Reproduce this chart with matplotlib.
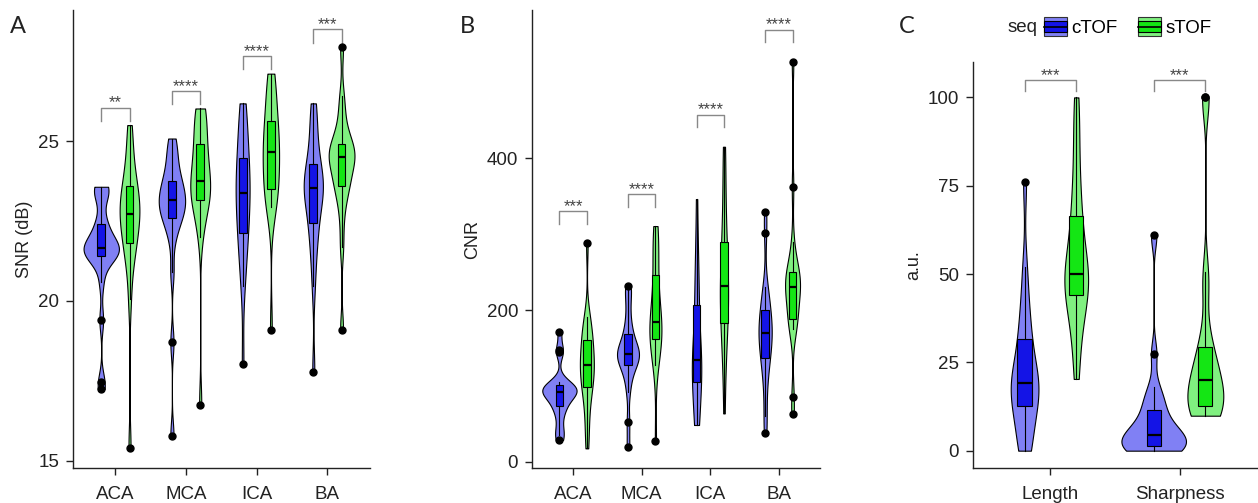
import numpy as np
import matplotlib.pyplot as plt
from matplotlib.patches import Rectangle
from matplotlib.lines import Line2D
from matplotlib.legend_handler import HandlerBase

plt.rcParams["font.family"] = ["Liberation Sans", "DejaVu Sans"]

vessels = ["ACA", "MCA", "ICA", "BA"]
metrics = ["Length", "Sharpness"]
seqs = ["cTOF", "sTOF"]

# SNR (dB), one list per vessel
snr_ctof = [
    [17.24, 17.45, 19.4, 20.6, 21.3, 21.4, 21.45, 21.5, 21.55, 21.6, 21.65, 21.7, 21.8, 21.9, 22.1, 22.4, 22.5, 23.3, 23.45, 23.5, 23.57],
    [15.78, 18.7, 20.9, 21.9, 22.3, 22.58, 22.6, 22.8, 22.9, 23.0, 23.16, 23.2, 23.3, 23.5, 23.6, 23.76, 23.9, 24.2, 24.5, 24.8, 25.08],
    [18.02, 20.45, 21.0, 21.5, 21.9, 22.11, 22.4, 22.7, 23.0, 23.2, 23.36, 23.6, 23.8, 24.0, 24.3, 24.48, 24.8, 25.2, 25.6, 25.9, 26.18],
    [17.77, 20.45, 21.3, 21.8, 22.2, 22.45, 22.8, 23.1, 23.3, 23.45, 23.54, 23.6, 23.7, 23.8, 24.0, 24.27, 24.5, 24.9, 25.4, 25.8, 26.18],
]
snr_stof = [
    [15.4, 20.05, 21.0, 21.5, 21.7, 21.8, 22.1, 22.4, 22.6, 22.7, 22.72, 22.8, 23.0, 23.2, 23.4, 23.6, 23.7, 24.0, 24.5, 25.0, 25.5],
    [16.75, 22.0, 22.5, 22.9, 23.1, 23.16, 23.3, 23.5, 23.6, 23.7, 23.75, 24.0, 24.3, 24.5, 24.7, 24.9, 25.2, 25.5, 25.8, 26.0, 26.02],
    [19.1, 22.95, 23.0, 23.2, 23.4, 23.5, 23.8, 24.1, 24.3, 24.5, 24.65, 24.8, 25.0, 25.2, 25.4, 25.63, 25.9, 26.3, 26.6, 26.9, 27.11],
    [19.1, 21.7, 22.6, 23.2, 23.5, 23.6, 23.8, 24.0, 24.2, 24.4, 24.49, 24.55, 24.6, 24.7, 24.8, 24.9, 25.1, 25.4, 25.9, 26.4, 27.95],
]
snr_sig = ["**", "****", "****", "***"]

# CNR
cnr_ctof = [
    [28.6, 35, 45, 60, 70, 73.4, 80, 85, 88, 90, 92.3, 93, 95, 96, 98, 101, 103, 105, 145, 147, 171.4],
    [18.9, 51.9, 92, 110, 120, 127.5, 132, 136, 139, 141, 142, 145, 148, 152, 158, 168, 175, 190, 210, 228, 232],
    [48.4, 50, 55, 75, 95, 105.5, 112, 118, 124, 129, 134, 140, 150, 165, 185, 206.6, 220, 240, 265, 290, 346.4],
    [37.4, 60, 90, 116, 125, 136.3, 145, 152, 158, 164, 170, 175, 180, 186, 193, 200, 210, 222, 230, 301, 329.7],
]
cnr_stof = [
    [17.6, 40, 60, 80, 92, 98, 105, 112, 118, 123, 127.5, 132, 138, 145, 152, 160.4, 168, 175, 182, 191, 288],
    [27.7, 127.5, 140, 150, 158, 161.3, 168, 172, 176, 180, 184.6, 190, 200, 212, 228, 246, 262, 278, 290, 305, 310.8],
    [63.7, 110, 140, 160, 175, 183.3, 195, 205, 215, 225, 231.6, 240, 250, 260, 275, 290, 310, 330, 360, 395, 415.4],
    [62.9, 85.7, 175, 180, 185, 187.7, 200, 210, 220, 226, 229.9, 233, 236, 240, 245, 250.5, 255, 262, 290, 361.8, 527.5],
]
cnr_sig = ["***", "****", "****", "****"]

# image quality scores (a.u.)
quality_ctof = [
    [0, 0, 3, 7, 10, 12.6, 14, 15.5, 17, 18, 19.2, 20.5, 22, 24, 27, 31.5, 34, 38, 44, 52, 76.1],
    [0, 0, 0, 0.2, 0.5, 1.3, 2, 2.5, 3, 4, 4.4, 5, 6, 7, 9, 11.5, 13, 15, 18, 27.4, 61],
]
quality_stof = [
    [20.3, 28, 34, 38, 42, 44.0, 46, 47, 48, 49, 50, 52, 55, 58, 62, 66.5, 70, 76, 84, 92, 100],
    [9.9, 10, 10, 11, 12, 12.7, 14, 15, 17, 18.5, 20, 21, 22, 24, 27, 29.4, 33, 45, 50.7, 100, 100],
]
quality_sig = ["***", "***"]

light_cols = ["#8080f4", "#80f080"]
dark_cols = ["#1414e6", "#14e614"]


def nrd0(x):
    sd = np.std(x, ddof=1)
    q75, q25 = np.percentile(x, [75, 25])
    lo = min(sd, (q75 - q25) / 1.34)
    if lo <= 0:
        lo = sd
    return 0.9 * lo * len(x) ** -0.2


def kde(x):
    x = np.asarray(x, dtype=float)
    bw = nrd0(x)
    grid = np.linspace(x.min(), x.max(), 512)
    z = (grid[:, None] - x[None, :]) / bw
    dens = np.exp(-0.5 * z**2).sum(axis=1) / (len(x) * bw * np.sqrt(2 * np.pi))
    return grid, dens


def violin_panel(ax, groups, series, sig, ylim, yticks, ylabel, pad, tick):
    n = len(groups)
    kdes = [[kde(s[i]) for i in range(n)] for s in series]
    dmax = max(d.max() for row in kdes for _, d in row)
    scale = 0.25 / dmax

    for k, s in enumerate(series):
        pos = [i + 1 + (k - 0.5) * 0.4 for i in range(n)]
        for i in range(n):
            grid, dens = kdes[k][i]
            w = dens * scale
            ax.fill_betweenx(grid, pos[i] - w, pos[i] + w, facecolor=light_cols[k],
                             edgecolor="black", lw=0.8, zorder=2)
        ax.boxplot(s, positions=pos, widths=0.11, patch_artist=True, showcaps=False,
                   manage_ticks=False, whis=1.5,
                   boxprops=dict(facecolor=dark_cols[k], edgecolor="black", lw=0.8),
                   whiskerprops=dict(color="black", lw=0.8),
                   medianprops=dict(color="black", lw=1.6),
                   flierprops=dict(marker="o", markerfacecolor="black", markeredgecolor="black",
                                   markersize=5),
                   zorder=3)

    for i in range(n):
        top = max(max(series[0][i]), max(series[1][i])) + pad
        x1, x2 = i + 1 - 0.2, i + 1 + 0.2
        ax.plot([x1, x1, x2, x2], [top - tick, top, top, top - tick], color="#888888", lw=1)
        ax.annotate(sig[i], ((x1 + x2) / 2, top), xytext=(0, 0), textcoords="offset points",
                    ha="center", va="baseline", fontsize=12, color="#444444")

    ax.set_xlim(0.4, n + 0.6)
    ax.set_ylim(*ylim)
    ax.set_xticks(range(1, n + 1))
    ax.set_xticklabels(groups)
    ax.set_yticks(yticks)
    ax.set_ylabel(ylabel, fontsize=13, color="#222222")
    ax.spines["top"].set_visible(False)
    ax.spines["right"].set_visible(False)
    for sp in ("left", "bottom"):
        ax.spines[sp].set_linewidth(1.0)
        ax.spines[sp].set_color("#222222")
    ax.tick_params(labelsize=13.5, length=5, width=1, colors="#222222")
    ax.tick_params(axis="x", pad=8)
    ax.tick_params(axis="y", pad=5)


fig = plt.figure(figsize=(12.58, 5.03), dpi=100)
ax_a = fig.add_axes([0.058, 0.0696, 0.236, 0.9104])
ax_b = fig.add_axes([0.4229, 0.0696, 0.2289, 0.9104])
ax_c = fig.add_axes([0.7734, 0.0696, 0.2258, 0.8077])

violin_panel(ax_a, vessels, [snr_ctof, snr_stof], snr_sig, (14.77, 29.1), [15, 20, 25],
             "SNR (dB)", 0.55, 0.42)
violin_panel(ax_b, vessels, [cnr_ctof, cnr_stof], cnr_sig, (-8.3, 595.7), [0, 200, 400],
             "CNR", 42.5, 17)
violin_panel(ax_c, metrics, [quality_ctof, quality_stof], quality_sig, (-4.9, 110.1),
             [0, 25, 50, 75, 100], "a.u.", 4.9, 3.0)

for label, x in [("A", 10 / 1258), ("B", 460 / 1258), ("C", 899 / 1258)]:
    fig.text(x, 1 - 33 / 503, label, fontsize=17, family="Lato", color="#222222")


class BoxKey(HandlerBase):
    def __init__(self, light, dark):
        super().__init__()
        self.light = light
        self.dark = dark

    def create_artists(self, legend, orig_handle, xdescent, ydescent, width, height,
                       fontsize, trans):
        x0, y0 = -xdescent, -ydescent
        outer = Rectangle((x0, y0), width, height, facecolor=self.light,
                          edgecolor="#333333", lw=0.8, transform=trans)
        inner = Rectangle((x0, y0 + height * 0.22), width, height * 0.56,
                          facecolor=self.dark, edgecolor="black", lw=0.8, transform=trans)
        med = Line2D([x0, x0 + width], [y0 + height / 2] * 2, color="black", lw=1.2,
                     transform=trans)
        return [outer, inner, med]


keys = [Rectangle((0, 0), 1, 1) for _ in seqs]
fig.text(1008 / 1258, 1 - 27 / 503, "seq", fontsize=13.5, va="center", color="#222222")
fig.legend(keys, seqs, loc="center left", bbox_to_anchor=(1044 / 1258, 1 - 27 / 503),
           ncol=2, frameon=False, fontsize=13.5, borderpad=0, borderaxespad=0,
           handlelength=1.2, handleheight=1.2, handletextpad=0.25, columnspacing=1.1,
           handler_map={keys[0]: BoxKey(light_cols[0], dark_cols[0]),
                        keys[1]: BoxKey(light_cols[1], dark_cols[1])})

fig.savefig("out.png", dpi=100)
